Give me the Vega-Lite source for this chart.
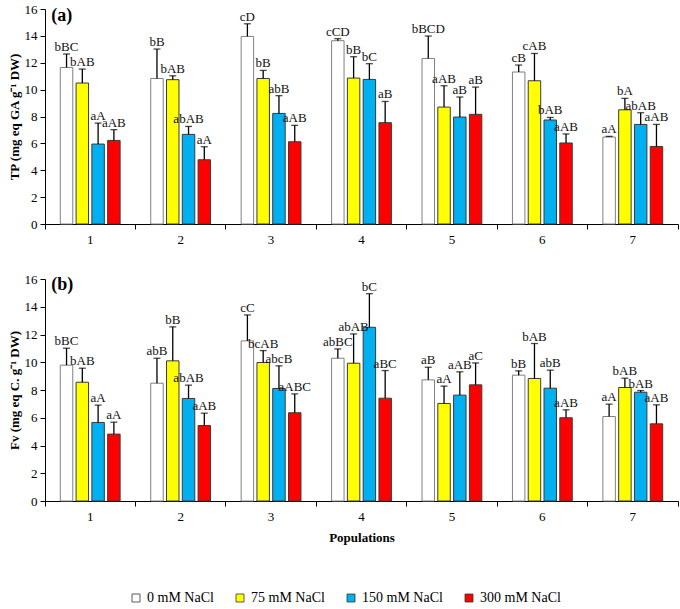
{
  "$schema": "https://vega.github.io/schema/vega-lite/v6.json",
  "padding": {"left": 8, "top": 3, "right": 2, "bottom": 5},
  "background": "white",
  "config": {
    "font": "'Liberation Serif', 'Times New Roman', Times, serif",
    "view": {"stroke": null},
    "concat": {"spacing": 55},
    "text": {"font": "'Liberation Serif', 'Times New Roman', Times, serif"},
    "axis": {"labelFont": "'Liberation Serif', 'Times New Roman', Times, serif", "titleFont": "'Liberation Serif', 'Times New Roman', Times, serif", "labelColor": "black", "titleColor": "black", "domainColor": "black", "tickColor": "black", "labelFontSize": 13, "titleFontSize": 13, "titleFontWeight": "bold", "grid": false, "tickSize": 5},
    "axisY": {"labelPadding": 3, "titlePadding": 3},
    "legend": {"labelFont": "'Liberation Serif', 'Times New Roman', Times, serif", "labelFontSize": 14, "labelColor": "black"}
  },
  "data": {"values": [
    {"panel": "a", "pop": "1", "trt": "0 mM NaCl", "value": 11.65, "err": 12.65, "label": "bBC"},
    {"panel": "a", "pop": "1", "trt": "75 mM NaCl", "value": 10.49, "err": 11.53, "label": "bAB"},
    {"panel": "a", "pop": "1", "trt": "150 mM NaCl", "value": 5.95, "err": 7.51, "label": "aA"},
    {"panel": "a", "pop": "1", "trt": "300 mM NaCl", "value": 6.22, "err": 7.02, "label": "aAB"},
    {"panel": "a", "pop": "2", "trt": "0 mM NaCl", "value": 10.83, "err": 13.02, "label": "bB"},
    {"panel": "a", "pop": "2", "trt": "75 mM NaCl", "value": 10.74, "err": 11.03, "label": "bAB"},
    {"panel": "a", "pop": "2", "trt": "150 mM NaCl", "value": 6.67, "err": 7.26, "label": "abAB"},
    {"panel": "a", "pop": "2", "trt": "300 mM NaCl", "value": 4.78, "err": 5.75, "label": "aA"},
    {"panel": "a", "pop": "3", "trt": "0 mM NaCl", "value": 13.96, "err": 14.9, "label": "cD"},
    {"panel": "a", "pop": "3", "trt": "75 mM NaCl", "value": 10.83, "err": 11.43, "label": "bB"},
    {"panel": "a", "pop": "3", "trt": "150 mM NaCl", "value": 8.23, "err": 9.55, "label": "abB"},
    {"panel": "a", "pop": "3", "trt": "300 mM NaCl", "value": 6.12, "err": 7.34, "label": "aAB"},
    {"panel": "a", "pop": "4", "trt": "0 mM NaCl", "value": 13.64, "err": 13.79, "label": "cCD"},
    {"panel": "a", "pop": "4", "trt": "75 mM NaCl", "value": 10.86, "err": 12.45, "label": "bB"},
    {"panel": "a", "pop": "4", "trt": "150 mM NaCl", "value": 10.76, "err": 11.93, "label": "bC"},
    {"panel": "a", "pop": "4", "trt": "300 mM NaCl", "value": 7.54, "err": 9.12, "label": "aB"},
    {"panel": "a", "pop": "5", "trt": "0 mM NaCl", "value": 12.32, "err": 13.99, "label": "bBCD"},
    {"panel": "a", "pop": "5", "trt": "75 mM NaCl", "value": 8.7, "err": 10.29, "label": "aAB"},
    {"panel": "a", "pop": "5", "trt": "150 mM NaCl", "value": 7.96, "err": 9.45, "label": "aB"},
    {"panel": "a", "pop": "5", "trt": "300 mM NaCl", "value": 8.16, "err": 10.19, "label": "aB"},
    {"panel": "a", "pop": "6", "trt": "0 mM NaCl", "value": 11.31, "err": 11.83, "label": "cB"},
    {"panel": "a", "pop": "6", "trt": "75 mM NaCl", "value": 10.66, "err": 12.69, "label": "cAB"},
    {"panel": "a", "pop": "6", "trt": "150 mM NaCl", "value": 7.74, "err": 7.93, "label": "bAB"},
    {"panel": "a", "pop": "6", "trt": "300 mM NaCl", "value": 6.03, "err": 6.7, "label": "aAB"},
    {"panel": "a", "pop": "7", "trt": "0 mM NaCl", "value": 6.47, "err": 6.52, "label": "aA"},
    {"panel": "a", "pop": "7", "trt": "75 mM NaCl", "value": 8.5, "err": 9.35, "label": "bA"},
    {"panel": "a", "pop": "7", "trt": "150 mM NaCl", "value": 7.41, "err": 8.28, "label": "abAB"},
    {"panel": "a", "pop": "7", "trt": "300 mM NaCl", "value": 5.77, "err": 7.41, "label": "aAB"},
    {"panel": "b", "pop": "1", "trt": "0 mM NaCl", "value": 9.79, "err": 11.01, "label": "bBC"},
    {"panel": "b", "pop": "1", "trt": "75 mM NaCl", "value": 8.56, "err": 9.57, "label": "bAB"},
    {"panel": "b", "pop": "1", "trt": "150 mM NaCl", "value": 5.66, "err": 6.91, "label": "aA"},
    {"panel": "b", "pop": "1", "trt": "300 mM NaCl", "value": 4.82, "err": 5.68, "label": "aA"},
    {"panel": "b", "pop": "2", "trt": "0 mM NaCl", "value": 8.49, "err": 10.29, "label": "abB"},
    {"panel": "b", "pop": "2", "trt": "75 mM NaCl", "value": 10.1, "err": 12.55, "label": "bB"},
    {"panel": "b", "pop": "2", "trt": "150 mM NaCl", "value": 7.39, "err": 8.35, "label": "abAB"},
    {"panel": "b", "pop": "2", "trt": "300 mM NaCl", "value": 5.44, "err": 6.33, "label": "aAB"},
    {"panel": "b", "pop": "3", "trt": "0 mM NaCl", "value": 11.54, "err": 13.41, "label": "cC"},
    {"panel": "b", "pop": "3", "trt": "75 mM NaCl", "value": 9.98, "err": 10.84, "label": "bcAB"},
    {"panel": "b", "pop": "3", "trt": "150 mM NaCl", "value": 8.11, "err": 9.74, "label": "abcB"},
    {"panel": "b", "pop": "3", "trt": "300 mM NaCl", "value": 6.36, "err": 7.72, "label": "aABC"},
    {"panel": "b", "pop": "4", "trt": "0 mM NaCl", "value": 10.29, "err": 10.96, "label": "abBC"},
    {"panel": "b", "pop": "4", "trt": "75 mM NaCl", "value": 9.93, "err": 12.04, "label": "abAB"},
    {"panel": "b", "pop": "4", "trt": "150 mM NaCl", "value": 12.52, "err": 14.94, "label": "bC"},
    {"panel": "b", "pop": "4", "trt": "300 mM NaCl", "value": 7.41, "err": 9.4, "label": "aBC"},
    {"panel": "b", "pop": "5", "trt": "0 mM NaCl", "value": 8.73, "err": 9.64, "label": "aB"},
    {"panel": "b", "pop": "5", "trt": "75 mM NaCl", "value": 7.03, "err": 8.28, "label": "aA"},
    {"panel": "b", "pop": "5", "trt": "150 mM NaCl", "value": 7.63, "err": 9.31, "label": "aAB"},
    {"panel": "b", "pop": "5", "trt": "300 mM NaCl", "value": 8.37, "err": 9.95, "label": "aC"},
    {"panel": "b", "pop": "6", "trt": "0 mM NaCl", "value": 9.07, "err": 9.38, "label": "bB"},
    {"panel": "b", "pop": "6", "trt": "75 mM NaCl", "value": 8.83, "err": 11.35, "label": "bAB"},
    {"panel": "b", "pop": "6", "trt": "150 mM NaCl", "value": 8.13, "err": 9.43, "label": "abB"},
    {"panel": "b", "pop": "6", "trt": "300 mM NaCl", "value": 6.0, "err": 6.57, "label": "aAB"},
    {"panel": "b", "pop": "7", "trt": "0 mM NaCl", "value": 6.09, "err": 6.98, "label": "aA"},
    {"panel": "b", "pop": "7", "trt": "75 mM NaCl", "value": 8.18, "err": 8.85, "label": "bAB"},
    {"panel": "b", "pop": "7", "trt": "150 mM NaCl", "value": 7.84, "err": 7.96, "label": "bAB"},
    {"panel": "b", "pop": "7", "trt": "300 mM NaCl", "value": 5.56, "err": 6.93, "label": "aAB"}
  ]},
  "bounds": "flush",
  "vconcat": [
    {
      "width": 633, "height": 215,
      "transform": [{"filter": "datum.panel === 'a'"}],
      "layer": [
        {"mark": {"type": "bar", "strokeWidth": 1},
         "encoding": {
           "x": {"field": "pop", "type": "nominal", "scale": {"paddingInner": 0, "paddingOuter": 0}, "axis": {"title": null, "labelAngle": 0, "bandPosition": 1, "tickExtra": true, "labelPadding": 4}},
           "xOffset": {"field": "trt", "type": "nominal", "sort": ["0 mM NaCl", "75 mM NaCl", "150 mM NaCl", "300 mM NaCl"], "scale": {"paddingInner": 0.21, "paddingOuter": 0.97}},
           "y": {"field": "value", "type": "quantitative", "scale": {"domain": [0, 16], "nice": false}, "axis": {"title": "TP (mg eq GA g⁻¹ DW)", "tickCount": 8, "tickMinStep": 2, "labelOverlap": false, "labelSeparation": 0}},
           "fill": {"field": "trt", "type": "nominal", "scale": {"domain": ["0 mM NaCl", "75 mM NaCl", "150 mM NaCl", "300 mM NaCl"], "range": ["#FFFFFF", "#FFFF00", "#00B0F0", "#FF0000"]}, "legend": {"title": null, "orient": "none", "legendX": 84, "legendY": 582, "direction": "horizontal", "symbolType": "square", "symbolSize": 64, "symbolStrokeColor": "#333333", "symbolStrokeWidth": 0.8, "columnPadding": 19}},
           "stroke": {"condition": {"test": "datum.trt === '0 mM NaCl'", "value": "#808080"}, "value": "#3a3a3a"}
         }},
        {"mark": {"type": "rule", "color": "black", "strokeWidth": 1.3},
         "encoding": {
           "x": {"field": "pop", "type": "nominal"},
           "xOffset": {"field": "trt", "type": "nominal", "sort": ["0 mM NaCl", "75 mM NaCl", "150 mM NaCl", "300 mM NaCl"]},
           "y": {"field": "value", "type": "quantitative"}, "y2": {"field": "err"}}},
        {"mark": {"type": "tick", "color": "black", "thickness": 1.3, "size": 7},
         "encoding": {
           "x": {"field": "pop", "type": "nominal"},
           "xOffset": {"field": "trt", "type": "nominal", "sort": ["0 mM NaCl", "75 mM NaCl", "150 mM NaCl", "300 mM NaCl"]},
           "y": {"field": "err", "type": "quantitative"}}},
        {"mark": {"type": "text", "baseline": "alphabetic", "dy": -3, "fontSize": 13, "color": "#111111"},
         "encoding": {
           "x": {"field": "pop", "type": "nominal"},
           "xOffset": {"field": "trt", "type": "nominal", "sort": ["0 mM NaCl", "75 mM NaCl", "150 mM NaCl", "300 mM NaCl"]},
           "y": {"field": "err", "type": "quantitative"}, "text": {"field": "label"}}},
        {"data": {"values": [{"t": "(a)"}]},
         "mark": {"type": "text", "fontWeight": "bold", "fontSize": 18, "align": "left", "baseline": "middle", "dx": -39, "color": "black"},
         "encoding": {"x": {"datum": "1", "type": "nominal"}, "y": {"datum": 15.5, "type": "quantitative"}, "text": {"field": "t"}}}
      ]
    },
    {
      "width": 633, "height": 222,
      "transform": [{"filter": "datum.panel === 'b'"}],
      "layer": [
        {"mark": {"type": "bar", "strokeWidth": 1},
         "encoding": {
           "x": {"field": "pop", "type": "nominal", "scale": {"paddingInner": 0, "paddingOuter": 0}, "axis": {"title": "Populations", "labelAngle": 0, "bandPosition": 1, "tickExtra": true, "labelPadding": 4, "titlePadding": 8}},
           "xOffset": {"field": "trt", "type": "nominal", "sort": ["0 mM NaCl", "75 mM NaCl", "150 mM NaCl", "300 mM NaCl"], "scale": {"paddingInner": 0.21, "paddingOuter": 0.97}},
           "y": {"field": "value", "type": "quantitative", "scale": {"domain": [0, 16], "nice": false}, "axis": {"title": "Fv (mg eq C. g⁻¹ DW)", "tickCount": 8, "tickMinStep": 2, "labelOverlap": false, "labelSeparation": 0}},
           "fill": {"field": "trt", "type": "nominal", "scale": {"domain": ["0 mM NaCl", "75 mM NaCl", "150 mM NaCl", "300 mM NaCl"], "range": ["#FFFFFF", "#FFFF00", "#00B0F0", "#FF0000"]}, "legend": {"title": null, "orient": "none", "legendX": 84, "legendY": 582, "direction": "horizontal", "symbolType": "square", "symbolSize": 64, "symbolStrokeColor": "#333333", "symbolStrokeWidth": 0.8, "columnPadding": 19}},
           "stroke": {"condition": {"test": "datum.trt === '0 mM NaCl'", "value": "#808080"}, "value": "#3a3a3a"}
         }},
        {"mark": {"type": "rule", "color": "black", "strokeWidth": 1.3},
         "encoding": {
           "x": {"field": "pop", "type": "nominal"},
           "xOffset": {"field": "trt", "type": "nominal", "sort": ["0 mM NaCl", "75 mM NaCl", "150 mM NaCl", "300 mM NaCl"]},
           "y": {"field": "value", "type": "quantitative"}, "y2": {"field": "err"}}},
        {"mark": {"type": "tick", "color": "black", "thickness": 1.3, "size": 7},
         "encoding": {
           "x": {"field": "pop", "type": "nominal"},
           "xOffset": {"field": "trt", "type": "nominal", "sort": ["0 mM NaCl", "75 mM NaCl", "150 mM NaCl", "300 mM NaCl"]},
           "y": {"field": "err", "type": "quantitative"}}},
        {"mark": {"type": "text", "baseline": "alphabetic", "dy": -3, "fontSize": 13, "color": "#111111"},
         "encoding": {
           "x": {"field": "pop", "type": "nominal"},
           "xOffset": {"field": "trt", "type": "nominal", "sort": ["0 mM NaCl", "75 mM NaCl", "150 mM NaCl", "300 mM NaCl"]},
           "y": {"field": "err", "type": "quantitative"}, "text": {"field": "label"}}},
        {"data": {"values": [{"t": "(b)"}]},
         "mark": {"type": "text", "fontWeight": "bold", "fontSize": 18, "align": "left", "baseline": "middle", "dx": -39, "color": "black"},
         "encoding": {"x": {"datum": "1", "type": "nominal"}, "y": {"datum": 15.55, "type": "quantitative"}, "text": {"field": "t"}}}
      ]
    }
  ]
}
